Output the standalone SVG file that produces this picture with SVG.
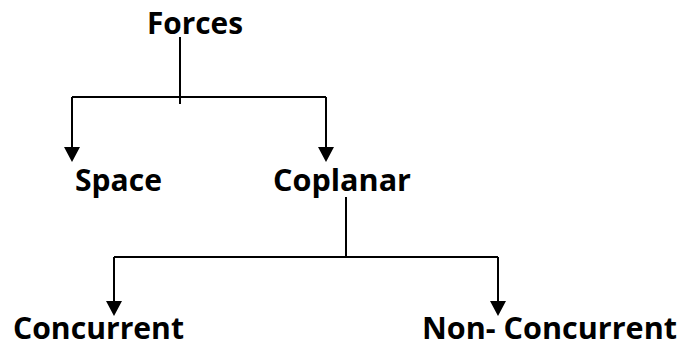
<svg xmlns="http://www.w3.org/2000/svg" width="687" height="347" viewBox="0 0 687 347">
<style>
.t{font-family:"Open Sans","Liberation Sans",sans-serif;font-weight:bold;font-size:31px;fill:#000}
.c{fill:none;stroke:#000;stroke-width:2}
.h{fill:#000}
</style>
<rect width="687" height="347" fill="#fff"/>
<g id="connectors">
<path class="c" d="M180 37V104M72 97H326M72 97V148M326 97V148"/>
<polygon class="h" points="64,147 80,147 72,162"/>
<polygon class="h" points="318,147 334,147 326,162"/>
<path class="c" d="M346 197V257M114 257H498M114 257V302M498 257V302"/>
<polygon class="h" points="106,301 122,301 114,316"/>
<polygon class="h" points="490,301 506,301 498,316"/>
</g>
<g id="forces"><text class="t" x="147" y="34" textLength="96" lengthAdjust="spacingAndGlyphs">Forces</text></g>
<g id="space"><text class="t" x="75" y="191" textLength="87" lengthAdjust="spacingAndGlyphs">Space</text></g>
<g id="coplanar"><text class="t" x="273" y="191" textLength="138" lengthAdjust="spacingAndGlyphs">Coplanar</text></g>
<g id="concurrent"><text class="t" x="13" y="339" textLength="171" lengthAdjust="spacingAndGlyphs">Concurrent</text></g>
<g id="nonconcurrent"><text class="t" x="422" y="339" textLength="255" lengthAdjust="spacingAndGlyphs">Non- Concurrent</text></g>
</svg>
